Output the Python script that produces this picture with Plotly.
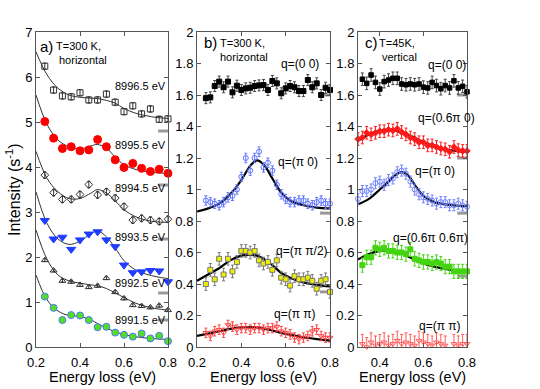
import plotly.graph_objects as go

# ---- panel a: energy scans, T=300 K horizontal ----
x_a = [0.24, 0.28, 0.32, 0.36, 0.40, 0.44, 0.48, 0.52, 0.56, 0.60, 0.64, 0.68, 0.72, 0.76, 0.80]
a_8996 = [6.24, 5.71, 5.58, 5.56, 5.65, 5.49, 5.49, 5.62, 5.44, 5.23, 5.36, 5.18, 5.29, 5.06, 5.07]
a_8995 = [5.01, 4.64, 4.41, 4.45, 4.36, 4.38, 4.61, 4.45, 4.16, 3.99, 4.08, 3.97, 3.90, 3.95, 3.86]
a_8994 = [3.82, 3.43, 3.28, 3.28, 3.39, 3.61, 3.38, 3.45, 3.31, 3.12, 2.82, 2.86, 2.82, 2.79, 2.84]
a_8993 = [2.81, 2.40, 2.44, 2.17, 2.38, 2.51, 2.56, 2.38, 2.23, 1.82, 1.65, 1.67, 1.70, 1.69, 1.45]
a_8992 = [1.93, 1.70, 1.47, 1.45, 1.38, 1.33, 1.36, 1.53, 1.22, 1.08, 0.93, 0.91, 0.88, 0.92, 0.82]
a_8991 = [1.12, 0.87, 0.60, 0.71, 0.70, 0.60, 0.44, 0.45, 0.32, 0.27, 0.23, 0.30, 0.19, 0.25, 0.13]

xf_a = [0.20, 0.25, 0.30, 0.35, 0.40, 0.45, 0.48, 0.52, 0.56, 0.60, 0.65, 0.70, 0.75, 0.80]
fa_8996 = [6.56, 6.05, 5.75, 5.60, 5.55, 5.53, 5.52, 5.48, 5.42, 5.30, 5.20, 5.14, 5.10, 5.08]
fa_8995 = [5.60, 4.95, 4.60, 4.45, 4.40, 4.47, 4.50, 4.42, 4.22, 4.05, 3.95, 3.90, 3.87, 3.86]
fa_8994 = [4.35, 3.75, 3.45, 3.30, 3.30, 3.42, 3.50, 3.42, 3.25, 3.05, 2.90, 2.82, 2.78, 2.77]
fa_8993 = [3.45, 2.75, 2.40, 2.28, 2.35, 2.52, 2.58, 2.45, 2.20, 1.92, 1.72, 1.62, 1.56, 1.52]
fa_8992 = [2.60, 1.95, 1.60, 1.47, 1.42, 1.38, 1.36, 1.30, 1.20, 1.10, 0.98, 0.90, 0.85, 0.82]
fa_8991 = [1.60, 1.05, 0.80, 0.70, 0.68, 0.60, 0.52, 0.42, 0.34, 0.28, 0.23, 0.20, 0.18, 0.17]
offsets_a = [4.8, 3.6, 2.4, 1.2, 0.6]
labels_a = ["8996.5 eV", "8995.5 eV", "8994.5 eV", "8993.5 eV", "8992.5 eV", "8991.5 eV"]
label_y_a = [5.8, 4.49, 3.53, 2.44, 1.42, 0.6]

# ---- panel b: q dependence, T=300 K horizontal ----
x_b = [0.24, 0.26, 0.28, 0.30, 0.32, 0.34, 0.36, 0.38, 0.40, 0.42, 0.44, 0.46, 0.48, 0.50, 0.52,
       0.54, 0.56, 0.58, 0.60, 0.62, 0.64, 0.66, 0.68, 0.70, 0.72, 0.74, 0.76, 0.78, 0.80]
b_00 = [1.58, 1.585, 1.657, 1.685, 1.649, 1.685, 1.617, 1.659, 1.632, 1.642, 1.646, 1.657, 1.661, 1.663, 1.632,
        1.689, 1.674, 1.611, 1.642, 1.657, 1.649, 1.625, 1.625, 1.695, 1.649, 1.674, 1.60, 1.646, 1.632]
b_p0 = [0.93, 0.92, 0.91, 0.90, 0.92, 0.95, 0.96, 1.00, 1.08, 1.20, 1.12, 1.20, 1.24, 1.14, 1.17,
        1.12, 1.03, 0.97, 0.94, 0.92, 0.92, 0.93, 0.93, 0.91, 0.90, 0.92, 0.93, 0.91, 0.91]
b_pp2 = [0.40, 0.49, 0.43, 0.56, 0.46, 0.56, 0.48, 0.54, 0.61, 0.61, 0.60, 0.61, 0.55, 0.53, 0.54,
         0.49, 0.55, 0.44, 0.43, 0.39, 0.45, 0.43, 0.43, 0.44, 0.42, 0.37, 0.42, 0.43, 0.35]
b_pp = [0.09, 0.07, 0.10, 0.11, 0.09, 0.14, 0.13, 0.11, 0.12, 0.12, 0.11, 0.12, 0.12, 0.11, 0.12,
        0.12, 0.13, 0.10, 0.09, 0.08, 0.06, 0.05, 0.06, 0.07, 0.10, 0.11, 0.07, 0.06, 0.06]

xf_b = [0.20, 0.25, 0.30, 0.35, 0.40, 0.44, 0.47, 0.50, 0.54, 0.58, 0.62, 0.68, 0.74, 0.80]
fb_p0 = [0.86, 0.88, 0.91, 0.97, 1.06, 1.15, 1.185, 1.16, 1.07, 0.98, 0.93, 0.90, 0.885, 0.88]
fb_pp2 = [0.42, 0.46, 0.50, 0.55, 0.58, 0.585, 0.58, 0.56, 0.52, 0.47, 0.44, 0.41, 0.395, 0.385]
fb_pp = [0.07, 0.085, 0.10, 0.115, 0.125, 0.127, 0.125, 0.117, 0.105, 0.09, 0.078, 0.062, 0.05, 0.04]
offsets_b = [1.6, 0.85, 0.35]
labels_b = ["q=(0 0)", "q=(π 0)", "q=(π π/2)", "q=(π π)"]
label_x_b = [0.758, 0.755, 0.8, 0.746]
label_y_b = [1.80, 1.175, 0.61, 0.21]

# ---- panel c: q dependence, T=45K vertical ----
x_c = [0.30, 0.32, 0.34, 0.36, 0.38, 0.40, 0.42, 0.44, 0.46, 0.48, 0.50, 0.52, 0.54,
       0.56, 0.58, 0.60, 0.62, 0.64, 0.66, 0.68, 0.70, 0.72, 0.74, 0.76, 0.78, 0.80]
c_00 = [None, 1.70, 1.674, 1.727, 1.68, 1.638, 1.685, 1.695, 1.706, 1.706, 1.67, 1.665, 1.67,
        1.665, 1.67, 1.65, 1.645, 1.68, 1.66, 1.64, 1.66, 1.645, 1.69, 1.645, 1.655, 1.62]
c_060 = [1.32, 1.33, 1.36, 1.35, 1.36, 1.37, 1.37, 1.38, 1.375, 1.385, 1.365, 1.35, 1.33,
         1.32, 1.30, 1.30, 1.28, 1.28, 1.27, 1.26, 1.255, 1.24, 1.27, 1.25, 1.245, 1.245]
c_p0 = [0.94, 0.99, 0.99, 1.00, 1.04, 1.05, 1.03, 1.06, 1.07, 1.11, 1.12, 1.10, 1.05,
        1.00, 0.97, 0.95, 0.94, 0.93, 0.91, 0.92, 0.92, 0.90, 0.90, 0.91, 0.90, 0.89]
c_0606 = [None, 0.52, 0.57, 0.57, 0.63, 0.62, 0.63, 0.61, 0.61, 0.60, 0.60, 0.59, 0.62,
          0.56, 0.55, 0.54, 0.54, 0.53, 0.54, 0.53, 0.51, 0.51, 0.48, 0.48, 0.48, 0.48]
c_pp = [None, 0.02, 0.00, 0.03, 0.01, 0.02, 0.03, 0.01, 0.02, 0.04, 0.02, 0.03, 0.02,
        0.01, 0.04, 0.03, 0.02, 0.01, 0.03, 0.02, 0.01, None, 0.02, 0.01, 0.02, 0.02]

xf_c = [0.30, 0.35, 0.40, 0.44, 0.47, 0.50, 0.53, 0.56, 0.60, 0.65, 0.70, 0.75, 0.80]
fc_060 = [1.31, 1.35, 1.375, 1.38, 1.375, 1.36, 1.345, 1.33, 1.30, 1.275, 1.255, 1.245, 1.24]
fc_p0 = [0.905, 0.94, 1.00, 1.05, 1.09, 1.11, 1.09, 1.03, 0.96, 0.92, 0.905, 0.898, 0.895]
fc_0606 = [0.555, 0.59, 0.61, 0.615, 0.61, 0.595, 0.575, 0.555, 0.53, 0.51, 0.495, 0.485, 0.48]
offsets_c = [1.6, 1.2, 0.85, 0.45]
labels_c = ["q=(0 0)", "q=(0.6π 0)", "q=(π 0)", "q=(0.6π 0.6π)", "q=(π π)"]
label_x_c = [0.8, 0.8, 0.754, 0.8, 0.78]
label_shift_c = [1, 10, 0, 3, 0]
label_y_c = [1.79, 1.454, 1.117, 0.692, 0.133]

FONT = "Arial, Liberation Sans, sans-serif"
fig = go.Figure()


def pts(x, y, ax, sym, color, size, line_color=None, err=0.04, err_color=None):
    fig.add_trace(go.Scatter(
        x=x, y=y, xaxis="x" + ax, yaxis="y" + ax, mode="markers", cliponaxis=False,
        marker=dict(symbol=sym, color=color, size=size,
                    line=dict(color=line_color or color, width=1)),
        error_y=dict(type="constant", value=err, color=err_color or line_color or color,
                     thickness=1, width=1.5, visible=err > 0),
        showlegend=False, hoverinfo="skip"))


def fit(x, y, ax, width=2.2, color="black"):
    fig.add_trace(go.Scatter(x=x, y=y, xaxis="x" + ax, yaxis="y" + ax, mode="lines",
                             line=dict(color=color, width=width, shape="spline"),
                             showlegend=False, hoverinfo="skip"))


def bars(offs, ax):
    for o in offs:
        fig.add_trace(go.Scatter(x=[0.755, 0.8], y=[o, o], xaxis="x" + ax, yaxis="y" + ax,
                                 mode="lines", line=dict(color="#999999", width=3),
                                 showlegend=False, hoverinfo="skip"))


# panel a
bars(offsets_a, "")
for f in [fa_8996, fa_8995, fa_8994, fa_8993, fa_8992, fa_8991]:
    fit(xf_a, f, "", width=1, color="#333333")
pts(x_a, a_8996, "", "square-open", "#333333", 6, err=0.07)
pts(x_a, a_8995, "", "circle", "#ff0000", 8, err=0)
pts(x_a, a_8994, "", "diamond-open", "#333333", 6, err=0.07)
pts(x_a, a_8993, "", "triangle-down", "#1f3cff", 8, err=0)
pts(x_a, a_8992, "", "triangle-up-open", "#333333", 6, err=0.03)
pts(x_a, a_8991, "", "circle", "#55dd22", 7, line_color="#4a78ff", err=0)

# panel b
bars(offsets_b, "2")
fit(xf_b, fb_p0, "2")
fit(xf_b, fb_pp2, "2")
fit(xf_b, fb_pp, "2")
pts(x_b, b_00, "2", "square", "black", 5, err=0.035, err_color="#444444")
pts(x_b, b_p0, "2", "circle-open", "#5f74ff", 5, err=0.03)
pts(x_b, b_pp2, "2", "square", "#eeee00", 5, line_color="#777777", err=0.04)
pts(x_b, b_pp, "2", "triangle-down-open", "#ff4040", 5, err=0.03)

# panel c
bars(offsets_c, "3")
fit(xf_c, fc_060, "3")
fit(xf_c, fc_p0, "3")
fit(xf_c, fc_0606, "3")
pts(x_c, c_00, "3", "square", "black", 4.5, err=0.04, err_color="#444444")
pts(x_c, c_060, "3", "diamond", "#ff1a1a", 5, err=0.04)
pts(x_c, c_p0, "3", "circle-open", "#6f82ff", 5, err=0.035)
pts(x_c, c_0606, "3", "square", "#44d411", 5, err=0.045)
pts(x_c, c_pp, "3", "triangle-down-open", "#ff5a5a", 5, err=0.06)

ann = []
for ax, labels, lx, ly, sh, size in [
        ("", labels_a, [0.8] * 6, label_y_a, [0] * 6, 11),
        ("2", labels_b, label_x_b, label_y_b, [0] * 4, 12),
        ("3", labels_c, label_x_c, label_y_c, label_shift_c, 12)]:
    for t, xv, yv, s in zip(labels, lx, ly, sh):
        ann.append(dict(x=xv, y=yv, xref="x" + ax, yref="y" + ax, text=t, showarrow=False,
                        xanchor="right", yanchor="middle", xshift=s,
                        font=dict(size=size, color="black", family=FONT)))

# panel tags
for t, px, py in [("a)", 38, 46), ("b)", 202, 43), ("c)", 363, 43)]:
    ann.append(dict(x=px / 540, y=1 - py / 389, xref="paper", yref="paper", text=t,
                    showarrow=False, xanchor="left", yanchor="middle",
                    font=dict(size=15, color="black", family=FONT)))
for t, px, py in [("T=300 K,", 54, 46), ("horizontal", 57, 60), ("T=300 K,", 218, 43),
                  ("horizontal", 218, 57), ("T=45K,", 377, 43), ("vertical", 380, 57)]:
    ann.append(dict(x=px / 540, y=1 - py / 389, xref="paper", yref="paper", text=t,
                    showarrow=False, xanchor="left", yanchor="middle",
                    font=dict(size=11, color="black", family=FONT)))
ann.append(dict(x=13 / 540, y=1 - 190 / 389, xref="paper", yref="paper",
                text="Intensity (s<sup>-1</sup>)", textangle=-90, showarrow=False,
                xanchor="center", yanchor="middle",
                font=dict(size=16, color="black", family=FONT)))
# x axis titles
for cx in [102, 263.5, 412.5]:
    ann.append(dict(x=cx / 540, y=1 - 377 / 389, xref="paper", yref="paper",
                    text="Energy loss (eV)", showarrow=False, xanchor="center", yanchor="middle",
                    borderpad=0, font=dict(size=14.5, color="black", family=FONT)))

axis_common = dict(showline=True, linecolor="#555555", linewidth=1, mirror="ticks",
                   ticks="inside", ticklen=4, tickcolor="#555555", showgrid=False,
                   zeroline=False, automargin=False,
                   tickfont=dict(size=13, color="black", family=FONT))
y2_ticks = [0, 0.2, 0.4, 0.6, 0.8, 1, 1.2, 1.4, 1.6, 1.8, 2]
y2_text = ["0", "0.2", "0.4", "0.6", "0.8", "1", "1.2", "1.4", "1.6", "1.8", "2"]

fig.update_layout(
    width=540, height=389, margin=dict(l=0, r=0, t=0, b=0, autoexpand=False),
    plot_bgcolor="white", paper_bgcolor="white", showlegend=False,
    xaxis=dict(domain=[36 / 540, 168 / 540], range=[0.2, 0.8], tickvals=[0.2, 0.4, 0.6, 0.8],
               anchor="y", ticklabelstandoff=3, **axis_common),
    yaxis=dict(domain=[1 - 347 / 389, 1 - 32 / 389], range=[0, 7], tickvals=list(range(8)),
               anchor="x", **axis_common),
    xaxis2=dict(domain=[197 / 540, 330 / 540], range=[0.2, 0.8], tickvals=[0.2, 0.4, 0.6, 0.8],
                anchor="y2", ticklabelstandoff=3, **axis_common),
    yaxis2=dict(domain=[1 - 347 / 389, 1 - 32 / 389], range=[0, 2],
                tickvals=y2_ticks, ticktext=y2_text, anchor="x2", **axis_common),
    xaxis3=dict(domain=[358 / 540, 467 / 540], range=[0.3, 0.8], tickvals=[0.4, 0.6, 0.8],
                anchor="y3", ticklabelstandoff=3, **axis_common),
    yaxis3=dict(domain=[1 - 347 / 389, 1 - 32 / 389], range=[0, 2],
                tickvals=y2_ticks, ticktext=y2_text, anchor="x3", **axis_common),
    annotations=ann,
)

# the page's default body margin would shift the whole figure by 8 px
fig.write_html("out.html", config={"displayModeBar": False},
               post_script="document.body.style.margin='0';")
